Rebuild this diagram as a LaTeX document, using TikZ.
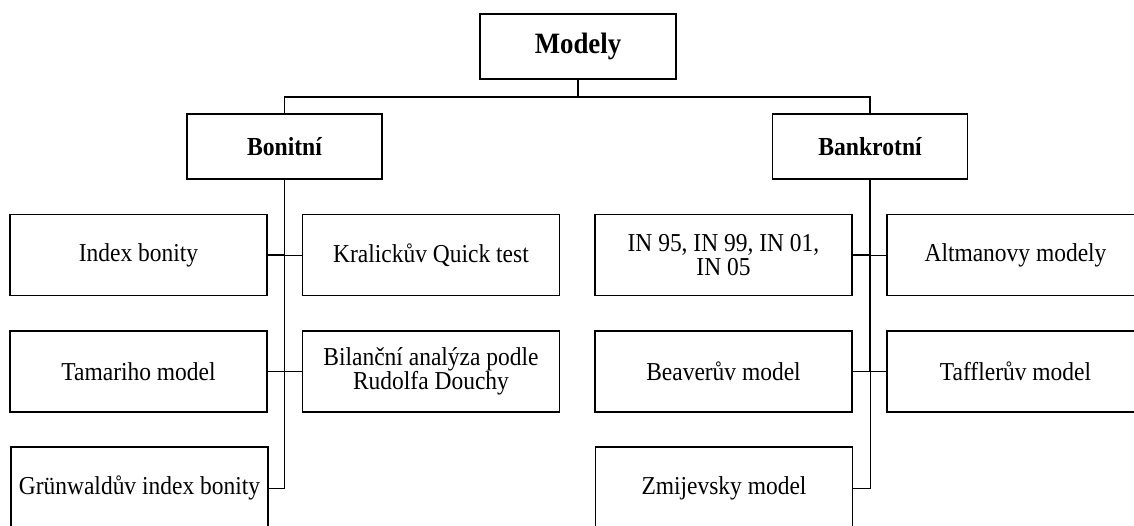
\documentclass[tikz,border=0pt]{standalone}
\usepackage{fontspec}
\setmainfont{Liberation Serif}[FakeStretch=0.91]

\begin{document}
\begin{tikzpicture}[x=1pt,y=-1pt,
  headbox/.style={draw, line width=1.5pt, minimum width=195pt, minimum height=65pt, inner sep=0pt, font=\fontsize{26}{24}\selectfont\bfseries},
  leafbox/.style={draw, line width=1.5pt, minimum width=257pt, minimum height=81pt, inner sep=0pt, align=center, font=\fontsize{25.8}{24}\selectfont},
  thickline/.style={line width=1.4pt},
  thinline/.style={line width=0.9pt}]
\clip (0,0) rectangle (1134,525);
\node (modely) at (578,46.5) [headbox, minimum width=196pt, font=\fontsize{29.5}{27}\selectfont\bfseries] {Modely};
\node (bon) at (284.5,146.5) [headbox] {Bonitní};
\node (bank) at (870,146.5) [headbox] {Bankrotní};
\coordinate (split) at (578,97);
\draw[thickline] (modely.south) -- (split);
\draw[thickline] (split) -| (bon.north);
\draw[thickline] (split) -| (bank.north);

\node (idx) at (138.5,255) [leafbox] {Index bonity};
\node (kral) at (431,255) [leafbox] {Kralickův Quick test};
\node (tam) at (138.5,371.5) [leafbox] {Tamariho model};
\node (bil) at (431,371.5) [leafbox] {Bilanční analýza podle\\Rudolfa Douchy};
\node (grw) at (139.5,488) [leafbox, minimum height=82pt] {Grünwaldův index bonity};
\draw[thickline] (bon.south) |- (idx.east);
\draw[thinline] (bon.south) |- (grw.east);
\draw[thinline] (kral.west) -- (kral.west -| bon.south);
\draw[thinline] (tam.east) -- (bil.west);

\node (inidx) at (723.5,255) [leafbox] {IN 95, IN 99, IN 01,\\IN 05};
\node (alt) at (1015.5,255) [leafbox] {Altmanovy modely};
\node (beav) at (723.5,371.5) [leafbox] {Beaverův model};
\node (taf) at (1015.5,371.5) [leafbox] {Tafflerův model};
\node (zmij) at (724,488) [leafbox, minimum height=82pt] {Zmijevsky model};
\draw[thickline] (bank.south) |- (inidx.east);
\draw[thickline] (bank.south) -- (bank.south |- beav.east);
\draw[thinline] (bank.south) |- (zmij.east);
\draw[thinline] (alt.west) -- (alt.west -| bank.south);
\draw[thinline] (beav.east) -- (taf.west);
\end{tikzpicture}
\end{document}
